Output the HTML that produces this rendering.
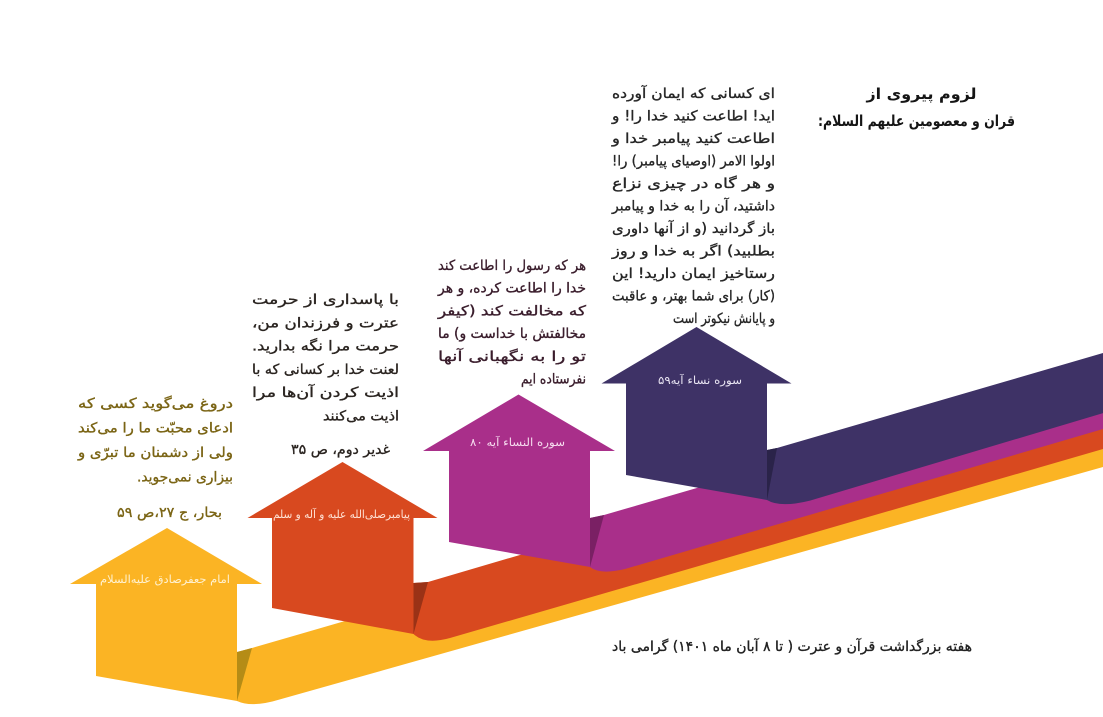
<!DOCTYPE html>
<html lang="fa">
<head>
<meta charset="utf-8">
<style>
  html, body { margin:0; padding:0; background:#ffffff; }
  body { width:1103px; height:717px; overflow:hidden; }
  svg { display:block; }
  text { font-family: "DejaVu Sans", "Liberation Sans", sans-serif; }
  .para text { stroke-width:0.35; }
</style>
</head>
<body>
<svg width="1103" height="717" viewBox="0 0 1103 717" xmlns="http://www.w3.org/2000/svg">
  <rect width="1103" height="717" fill="#ffffff"/>

  <!-- Yellow ribbon -->
  <path d="M167,528 L262,584 L237,584 L237,652 L252,648 L1110,399 L1110,465 L280,699.4 Q252,708 237,701 L96,676 L96,584 L70,584 Z" fill="#fbb424"/>
  <path d="M237,652 L252,648 L237,701 Z" fill="#b58c16"/>

  <!-- Orange ribbon -->
  <path d="M342.5,462 L437.5,518 L413.5,518 L413.5,583 L428,582 L1110,381.5 L1110,447 L450,638 Q425,645 413.5,634 L272,608 L272,518 L247.5,518 Z" fill="#d8491f"/>
  <path d="M413.5,583 L428,582 L413.5,634 Z" fill="#9a3216"/>

  <!-- Magenta ribbon -->
  <path d="M518.5,394.5 L615,451 L590,451 L590,518 L604,515 L1110,368 L1110,427 L625,569 Q600,575 590,567 L449,542 L449,451 L423,451 Z" fill="#a92f8a"/>
  <path d="M590,518 L604,515 L590,567 Z" fill="#7a2064"/>

  <!-- Purple ribbon -->
  <path d="M696.5,327 L791.5,383.5 L767,383.5 L767,450 L777,448 L1110,351 L1110,411 L810,500.6 Q780,508 767,500 L626,475 L626,383.5 L601.5,383.5 Z" fill="#3e3266"/>
  <path d="M767,450 L777,448 L767,500 Z" fill="#2a2349"/>

  <!-- Arrow labels -->
  <text x="165" y="583" font-size="11" fill="#fff2d2" text-anchor="middle" direction="rtl" textLength="130" lengthAdjust="spacingAndGlyphs">امام جعفرصادق علیه‌السلام</text>
  <text x="341.5" y="518" font-size="11" fill="#ffe3d6" text-anchor="middle" direction="rtl" textLength="137" lengthAdjust="spacingAndGlyphs">پیامبرصلی‌الله علیه و آله و سلم</text>
  <text x="517.5" y="446" font-size="11" fill="#f6dcef" text-anchor="middle" direction="rtl" textLength="95" lengthAdjust="spacingAndGlyphs">سوره النساء آیه ۸۰</text>
  <text x="700" y="384" font-size="11" fill="#e8e4f2" text-anchor="middle" direction="rtl" textLength="84" lengthAdjust="spacingAndGlyphs">سوره نساء آیه۵۹</text>

  <!-- Title -->
  <g font-weight="bold" fill="#151515" font-size="15" direction="rtl" text-anchor="middle">
    <text x="921.5" y="99" textLength="110" lengthAdjust="spacingAndGlyphs">لزوم پیروی از</text>
    <text x="916.5" y="126" textLength="197" lengthAdjust="spacingAndGlyphs">قران و معصومین علیهم السلام:</text>
  </g>

  <!-- Purple block text -->
  <g class="para" fill="#262626" stroke="#262626" font-size="14" direction="rtl" text-anchor="middle">
    <text x="693.5" y="98" textLength="163" lengthAdjust="spacingAndGlyphs">ای کسانی که ایمان آورده</text>
    <text x="693.5" y="120.5" textLength="163" lengthAdjust="spacingAndGlyphs">اید! اطاعت کنید خدا را! و</text>
    <text x="693.5" y="143" textLength="163" lengthAdjust="spacingAndGlyphs">اطاعت کنید پیامبر خدا و</text>
    <text x="693.5" y="165.5" textLength="163" lengthAdjust="spacingAndGlyphs">اولوا الامر (اوصیای پیامبر) را!</text>
    <text x="693.5" y="188" textLength="163" lengthAdjust="spacingAndGlyphs">و هر گاه در چیزی نزاع</text>
    <text x="693.5" y="210.5" textLength="163" lengthAdjust="spacingAndGlyphs">داشتید، آن را به خدا و پیامبر</text>
    <text x="693.5" y="233" textLength="163" lengthAdjust="spacingAndGlyphs">باز گردانید (و از آنها داوری</text>
    <text x="693.5" y="255.5" textLength="163" lengthAdjust="spacingAndGlyphs">بطلبید) اگر به خدا و روز</text>
    <text x="693.5" y="278" textLength="163" lengthAdjust="spacingAndGlyphs">رستاخیز ایمان دارید! این</text>
    <text x="693.5" y="300.5" textLength="163" lengthAdjust="spacingAndGlyphs">(کار) برای شما بهتر، و عاقبت</text>
    <text x="724" y="323" textLength="102" lengthAdjust="spacingAndGlyphs">و پایانش نیکوتر است</text>
  </g>

  <!-- Magenta block text -->
  <g class="para" fill="#3a1d2c" stroke="#3a1d2c" font-size="14" direction="rtl" text-anchor="middle">
    <text x="512" y="270" textLength="148" lengthAdjust="spacingAndGlyphs">هر که رسول را اطاعت کند</text>
    <text x="512" y="292.7" textLength="148" lengthAdjust="spacingAndGlyphs">خدا را اطاعت کرده، و هر</text>
    <text x="512" y="315.4" textLength="148" lengthAdjust="spacingAndGlyphs">که مخالفت کند (کیفر</text>
    <text x="512" y="338.1" textLength="148" lengthAdjust="spacingAndGlyphs">مخالفتش با خداست و) ما</text>
    <text x="512" y="360.8" textLength="148" lengthAdjust="spacingAndGlyphs">تو را به نگهبانی آنها</text>
    <text x="553.5" y="383.5" textLength="65" lengthAdjust="spacingAndGlyphs">نفرستاده ایم</text>
  </g>

  <!-- Orange block text -->
  <g class="para" fill="#2a2420" stroke="#2a2420" font-size="14" direction="rtl" text-anchor="middle">
    <text x="325.5" y="304" textLength="147" lengthAdjust="spacingAndGlyphs">با پاسداری از حرمت</text>
    <text x="325.5" y="327.3" textLength="147" lengthAdjust="spacingAndGlyphs">عترت و فرزندان من،</text>
    <text x="325.5" y="350.6" textLength="147" lengthAdjust="spacingAndGlyphs">حرمت مرا نگه بدارید.</text>
    <text x="325.5" y="373.9" textLength="147" lengthAdjust="spacingAndGlyphs">لعنت خدا بر کسانی که با</text>
    <text x="325.5" y="397.2" textLength="147" lengthAdjust="spacingAndGlyphs">اذیت کردن آن‌ها مرا</text>
    <text x="361" y="420.5" textLength="76" lengthAdjust="spacingAndGlyphs">اذیت می‌کنند</text>
    <text x="340.5" y="454" textLength="99" lengthAdjust="spacingAndGlyphs">غدیر دوم، ص ۳۵</text>
  </g>

  <!-- Yellow block text -->
  <g class="para" fill="#7a6414" stroke="#7a6414" font-size="14" direction="rtl" text-anchor="middle">
    <text x="155.5" y="408" textLength="155" lengthAdjust="spacingAndGlyphs">دروغ می‌گوید کسی که</text>
    <text x="155.5" y="432.5" textLength="155" lengthAdjust="spacingAndGlyphs">ادعای محبّت ما را می‌کند</text>
    <text x="155.5" y="457" textLength="155" lengthAdjust="spacingAndGlyphs">ولی از دشمنان ما تبرّی و</text>
    <text x="185" y="481.5" textLength="96" lengthAdjust="spacingAndGlyphs">بیزاری نمی‌جوید.</text>
    <text x="169.5" y="517" textLength="105" lengthAdjust="spacingAndGlyphs">بحار، ج ۲۷،ص ۵۹</text>
  </g>

  <!-- Bottom caption -->
  <g class="para" fill="#222222" stroke="#222222">
    <text x="792" y="651" font-size="14" text-anchor="middle" direction="rtl" textLength="360" lengthAdjust="spacingAndGlyphs">هفته بزرگداشت قرآن و عترت ( تا ۸ آبان ماه ۱۴۰۱) گرامی باد</text>
  </g>
</svg>
</body>
</html>
